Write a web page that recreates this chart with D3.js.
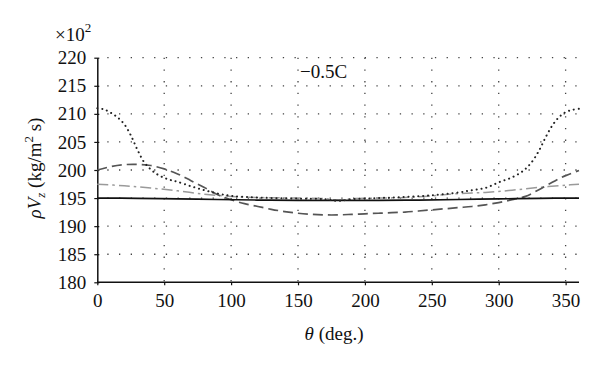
<!DOCTYPE html>
<html>
<head>
<meta charset="utf-8">
<script src="https://cdn.jsdelivr.net/npm/d3@7"></script>
<style>
  html, body { margin: 0; padding: 0; background: #fff; }
  svg { display: block; }
  text { font-family: "Liberation Serif", "DejaVu Serif", serif; fill: #111; }
</style>
</head>
<body>
<svg id="chart" width="600" height="369"></svg>
<script>
// ---- data ----
const xTicks = [0, 50, 100, 150, 200, 250, 300, 350];
const yTicks = [180, 185, 190, 195, 200, 205, 210, 215, 220];

const solidTheta = [0, 30, 60, 90, 120, 150, 180, 210, 240, 270, 300, 330, 360];
const solidVals  = [195.0, 194.95, 194.85, 194.75, 194.65, 194.6, 194.6, 194.6, 194.65, 194.75, 194.85, 194.95, 195.0];

const dottedTheta = [0, 5, 10, 15, 20, 25, 30, 35, 40, 45, 50, 55, 60, 70, 80, 90, 100, 120, 150, 170, 180, 190, 210, 230, 250, 270, 280, 290, 300, 310, 318, 324, 330, 335, 340, 345, 350, 355, 360];
const dottedVals  = [211.0, 210.8, 210.2, 209.4, 208.2, 206.2, 203.6, 201.4, 200.1, 199.2, 198.6, 198.2, 197.9, 197.1, 196.4, 195.8, 195.4, 195.1, 194.9, 194.8, 194.5, 194.8, 195.0, 195.2, 195.5, 196.0, 196.4, 196.8, 197.8, 198.7, 199.8, 201.2, 203.4, 205.8, 207.9, 209.4, 210.3, 210.7, 210.9];

const dashedTheta = [0, 10, 20, 30, 40, 50, 60, 70, 80, 90, 100, 110, 120, 130, 140, 150, 160, 170, 180, 190, 200, 210, 220, 230, 240, 250, 260, 270, 280, 290, 300, 310, 320, 330, 340, 350, 360];
const dashedVals  = [200.0, 200.6, 200.95, 201.0, 200.8, 200.2, 199.3, 198.1, 196.9, 195.6, 194.7, 194.0, 193.5, 193.0, 192.6, 192.3, 192.1, 192.0, 192.0, 192.1, 192.2, 192.3, 192.4, 192.5, 192.7, 192.9, 193.1, 193.3, 193.5, 193.8, 194.2, 194.7, 195.3, 196.5, 197.8, 199.0, 199.9];

const dashDotTheta = [0, 20, 40, 60, 80, 100, 120, 150, 170, 180, 190, 210, 230, 250, 270, 290, 310, 330, 350, 360];
const dashDotVals  = [197.45, 197.2, 196.8, 196.3, 195.7, 195.3, 195.1, 195.0, 194.9, 194.6, 194.9, 195.0, 195.1, 195.4, 195.8, 196.0, 196.4, 196.9, 197.3, 197.45];

// ---- layout ----
const svg = d3.select("#chart");
const x = d3.scaleLinear().domain([0, 360]).range([97.3, 579]);
const y = d3.scaleLinear().domain([180, 220]).range([282.3, 57.7]);

// grid
const grid = svg.append("g").attr("stroke", "#444").attr("stroke-width", 1.3)
  .attr("stroke-dasharray", "1.3,10.4").attr("fill", "none");
yTicks.filter(v => v > 180).forEach(v => {
  grid.append("line").attr("x1", x(0) + 10).attr("x2", x(360))
    .attr("y1", y(v)).attr("y2", y(v));
});
xTicks.filter(v => v > 0).forEach(v => {
  grid.append("line").attr("x1", x(v)).attr("x2", x(v))
    .attr("y1", y(220)).attr("y2", y(180));
});

// axes
const xAxis = d3.axisBottom(x).tickValues(xTicks).tickSizeInner(3).tickSizeOuter(0).tickPadding(7);
const yAxis = d3.axisLeft(y).tickValues(yTicks).tickSizeInner(3).tickSizeOuter(0).tickPadding(8);

const gx = svg.append("g").attr("transform", `translate(0,${y(180)})`).call(xAxis);
const gy = svg.append("g").attr("transform", `translate(${x(0)},0)`).call(yAxis);
gx.select(".domain").attr("d", `M${x(0)},0H${x(360)}`);
[gx, gy].forEach(g => {
  g.select(".domain").attr("stroke", "#111").attr("stroke-width", 1.5);
  g.selectAll(".tick line").attr("stroke", "#111").attr("stroke-width", 1.2);
  g.selectAll(".tick text").style("font-family", "'Liberation Serif', serif")
    .style("font-size", "19px").attr("fill", "#111");
});
gy.selectAll(".tick line").attr("x2", -3).attr("x1", 2);
gx.selectAll(".tick text").attr("dy", "0.75em");

// lines
const line = d3.line().x(d => x(d[0])).y(d => y(d[1])).curve(d3.curveCatmullRom.alpha(0.5));
function series(th, vals) { return th.map((t, i) => [t, vals[i]]); }

svg.append("path").datum(series(dashDotTheta, dashDotVals)).attr("d", line)
  .attr("fill", "none").attr("stroke", "#9a9a9a").attr("stroke-width", 1.5)
  .attr("stroke-dasharray", "11,4,2.5,4");
svg.append("path").datum(series(dashedTheta, dashedVals)).attr("d", line)
  .attr("fill", "none").attr("stroke", "#555").attr("stroke-width", 1.7)
  .attr("stroke-dasharray", "10,5");
svg.append("path").datum(series(solidTheta, solidVals)).attr("d", line)
  .attr("fill", "none").attr("stroke", "#111").attr("stroke-width", 1.7);
svg.append("path").datum(series(dottedTheta, dottedVals)).attr("d", line)
  .attr("fill", "none").attr("stroke", "#222").attr("stroke-width", 2)
  .attr("stroke-linecap", "round").attr("stroke-dasharray", "0.1,4.8");

// annotations
const t1 = svg.append("text").attr("x", 55).attr("y", 41).style("font-size", "19px");
t1.append("tspan").text("×10");
t1.append("tspan").attr("dy", -9).style("font-size", "13px").text("2");

svg.append("text").attr("x", 300).attr("y", 78).style("font-size", "19px").text("−0.5C");

const xl = svg.append("text").attr("x", 334).attr("y", 340).attr("text-anchor", "middle").style("font-size", "19px");
xl.append("tspan").style("font-style", "italic").text("θ");
xl.append("tspan").text(" (deg.)");

const yl = svg.append("text").attr("transform", "translate(41,168) rotate(-90)")
  .attr("text-anchor", "middle").style("font-size", "19px");
yl.append("tspan").style("font-style", "italic").text("ρV");
yl.append("tspan").style("font-style", "italic").style("font-size", "13px").attr("dy", 4).text("z");
yl.append("tspan").attr("dy", -4).text(" (kg/m");
yl.append("tspan").style("font-size", "13px").attr("dy", -8).text("2");
yl.append("tspan").attr("dy", 8).text(" s)");
</script>
</body>
</html>
